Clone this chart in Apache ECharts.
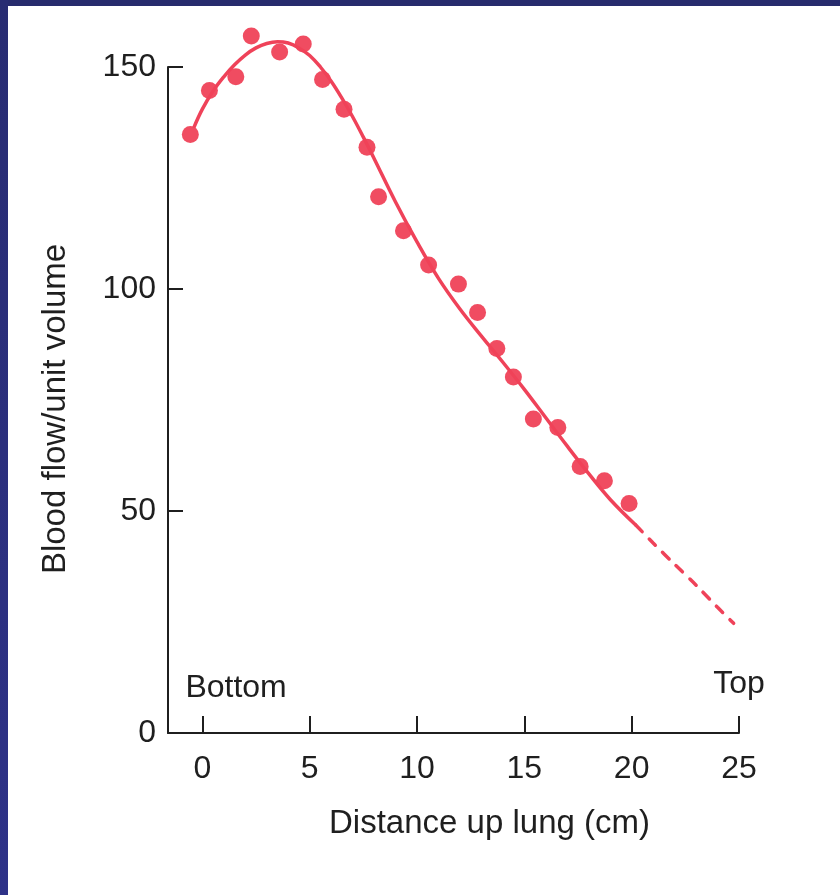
<!DOCTYPE html>
<html>
<head>
<meta charset="utf-8">
<script src="https://cdn.jsdelivr.net/npm/echarts@6/dist/echarts.min.js"></script>
<style>
  html, body { margin: 0; padding: 0; background: #ffffff; }
  #chart { position: absolute; left: 0; top: 0; width: 840px; height: 895px; }
  #bTop { position: absolute; left: 0; top: 0; width: 840px; height: 6px; background: #272B6D; z-index: 5; }
  #bLeft { position: absolute; left: 0; top: 0; width: 8px; height: 895px; background: linear-gradient(to bottom, #282C72, #2E3288); z-index: 5; }
</style>
</head>
<body>
<div id="chart"></div>
<div id="bTop"></div>
<div id="bLeft"></div>
<script>
// Measured data points (distance up lung in cm, blood flow per unit volume)
const pointX = [-0.56, 0.33, 1.56, 2.28, 3.6, 4.7, 5.6, 6.6, 7.67, 8.21, 9.37, 10.54, 11.93, 12.82, 13.72, 14.49, 15.42, 16.56, 17.6, 18.73, 19.88];
const pointY = [134.8, 144.7, 147.8, 157.0, 153.4, 155.2, 147.2, 140.5, 131.9, 120.8, 113.1, 105.4, 101.1, 94.7, 86.6, 80.2, 70.7, 68.8, 60.0, 56.8, 51.7];

// Fitted curve (solid part)
const curveX = [-0.4, 0, 0.5, 1, 1.5, 2, 2.5, 3, 3.5, 4, 4.5, 5, 5.5, 6, 6.5, 7, 7.5, 8, 9, 10, 11, 12, 13, 14, 15, 16, 17, 18, 19, 20.2];
const curveY = [136.3, 140.5, 144.6, 147.8, 150.5, 152.7, 154.3, 155.3, 155.7, 155.4, 154.3, 152.6, 150.0, 146.8, 143.0, 138.8, 134.2, 129.4, 119.6, 110.6, 102.4, 95.5, 89.4, 83.5, 77.4, 71.0, 64.6, 58.4, 52.6, 46.8];

// Extrapolated curve (dashed part)
const dashX = [20.2, 21, 22, 23, 24, 24.75];
const dashY = [46.8, 42.8, 38.0, 33.3, 28.3, 24.7];

// Axis ticks
const xTicks = [0, 5, 10, 15, 20, 25];
const yTicks = [50, 100, 150];
const yLabels = [0, 50, 100, 150];

// End annotations
const noteText = ['Bottom', 'Top'];
const noteX = [-0.79, 26.2];
const noteY = [10, 11];

const FONT = "'Liberation Sans', Arial, Helvetica, sans-serif";
const INK = '#1f1f1f';
const RED = '#EF4259';

const zip = (a, b) => a.map((v, i) => [v, b[i]]);

const chart = echarts.init(document.getElementById('chart'), null, { renderer: 'canvas' });
chart.setOption({
  animation: false,
  backgroundColor: '#ffffff',
  grid: { left: 168, right: 101, top: 67, bottom: 162, containLabel: false },
  xAxis: {
    type: 'value',
    min: -1.6,
    max: 25,
    name: 'Distance up lung (cm)',
    nameLocation: 'middle',
    nameGap: 74,
    nameTextStyle: { fontFamily: FONT, fontSize: 33, color: INK, padding: [0, 0, 0, 72] },
    axisLine: { show: true, onZero: false, lineStyle: { color: INK, width: 2 } },
    axisTick: { show: true, inside: true, length: 17, customValues: xTicks, lineStyle: { color: INK, width: 2 } },
    axisLabel: { show: true, customValues: xTicks, margin: 20, fontFamily: FONT, fontSize: 32, color: INK },
    splitLine: { show: false }
  },
  yAxis: {
    type: 'value',
    min: 0,
    max: 150,
    name: 'Blood flow/unit volume',
    nameLocation: 'middle',
    nameGap: 96,
    nameRotate: 90,
    nameTextStyle: { fontFamily: FONT, fontSize: 33, color: INK, padding: [0, 18, 0, 0] },
    axisLine: { show: true, onZero: false, lineStyle: { color: INK, width: 2 } },
    axisTick: { show: true, inside: true, length: 15, customValues: yTicks, lineStyle: { color: INK, width: 2 } },
    axisLabel: { show: true, customValues: yLabels, margin: 12, fontFamily: FONT, fontSize: 32, color: INK },
    splitLine: { show: false }
  },
  series: [
    {
      type: 'line',
      data: zip(curveX, curveY),
      smooth: 0.4,
      showSymbol: false,
      clip: false,
      lineStyle: { color: RED, width: 3.5 },
      z: 2
    },
    {
      type: 'line',
      data: zip(dashX, dashY),
      smooth: 0.3,
      showSymbol: false,
      clip: false,
      lineStyle: { color: RED, width: 3.5, type: [9, 10], cap: 'round' },
      z: 2
    },
    {
      type: 'scatter',
      data: zip(pointX, pointY),
      symbol: 'circle',
      symbolSize: 17,
      clip: false,
      itemStyle: { color: RED, opacity: 0.95 },
      z: 3
    },
    {
      type: 'scatter',
      data: zip(noteX, noteY).map((p, i) => ({
        value: p,
        itemStyle: { color: INK, opacity: 1 },
        label: {
          show: true,
          formatter: noteText[i],
          position: i === 0 ? 'right' : 'left',
          distance: 0,
          color: INK,
          opacity: 1,
          fontFamily: FONT,
          fontSize: 32,
          textBorderWidth: 0
        }
      })),
      symbolSize: 0,
      clip: false,
      silent: true,
      z: 4
    }
  ]
});
</script>
</body>
</html>
